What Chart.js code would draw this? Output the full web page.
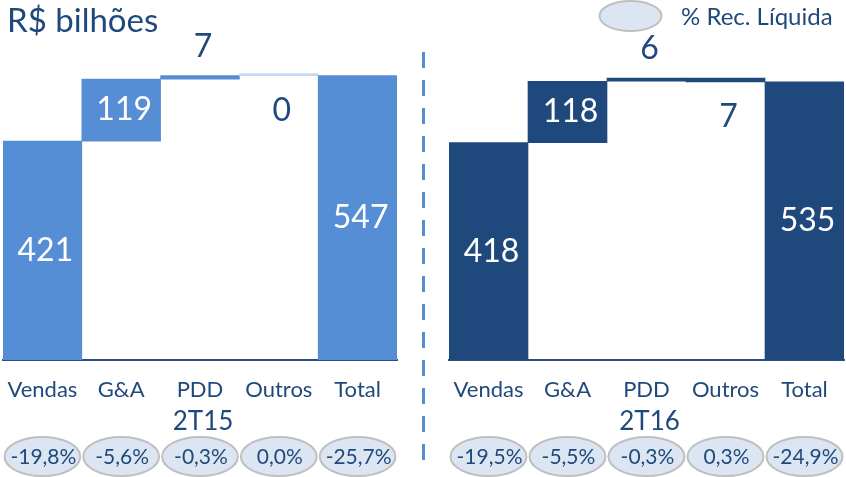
<!DOCTYPE html>
<html><head><meta charset="utf-8">
<script src="https://cdn.jsdelivr.net/npm/chart.js@4.4.1/dist/chart.umd.min.js"></script>
<style>
html,body{margin:0;padding:0;background:#fff;width:846px;height:477px;overflow:hidden}
.wrap{position:absolute;left:0;top:0;width:846px;height:477px}
</style></head><body>
<div class="wrap"><canvas id="c1"></canvas></div>
<div class="wrap"><canvas id="c2"></canvas></div>
<script>
// ---- data ----
const categories = ['Vendas', 'G&A', 'PDD', 'Outros', 'Total'];
const values2T15 = [421, 119, 7, 0, 547];
const values2T16 = [418, 118, 6, -7, 535];
const pct2T15 = ['-19,8%', '-5,6%', '-0,3%', '0,0%', '-25,7%'];
const pct2T16 = ['-19,5%', '-5,5%', '-0,3%', '0,3%', '-24,9%'];
const periods = ['2T15', '2T16'];
const unitTitle = 'R$ bilhões';
const legendLabel = '% Rec. Líquida';

// ---- style ----
const FONT = 'Lato, "Open Sans", sans-serif';
const DARK = '#1f497d';
const LIGHT_BAR = '#558ed5';
const DARK_BAR = '#1f497d';
const PILL_FILL = '#dce6f2';
const PILL_STROKE = '#bfbfbf';
const labelPlacement = ['in', 'in', 'above', 'below', 'in'];

function floating(values) {
  const out = []; let run = 0;
  values.forEach((v, i) => {
    if (i === values.length - 1) out.push([0, v]);
    else { out.push([run, run + v]); run += v; }
  });
  return out;
}

function ellipse(ctx, cx, cy, rx, ry, fill, stroke) {
  ctx.save();
  ctx.beginPath();
  ctx.ellipse(cx, cy, rx, ry, 0, 0, Math.PI * 2);
  ctx.fillStyle = fill; ctx.fill();
  ctx.lineWidth = 2; ctx.strokeStyle = stroke; ctx.stroke();
  ctx.restore();
}

function decoPlugin(values, pcts, period, isFirst) {
  return {
    id: 'deco',
    afterDatasetsDraw(chart) {
      const ctx = chart.ctx;
      const meta = chart.getDatasetMeta(0);
      const xs = chart.scales.x;
      ctx.save();
      // value labels
      ctx.font = '32px ' + FONT;
      ctx.textAlign = 'center';
      ctx.textBaseline = 'middle';
      meta.data.forEach((el, i) => {
        const top = Math.min(el.y, el.base), bottom = Math.max(el.y, el.base);
        const mode = labelPlacement[i];
        let y, col;
        if (mode === 'in') { y = (top + bottom) / 2; col = '#ffffff'; }
        else if (mode === 'above') { y = top - 29; col = DARK; }
        else { y = bottom + 35; col = DARK; }
        ctx.fillStyle = col;
        ctx.fillText(String(Math.abs(values[i])), el.x + 3, y);
      });
      // period label
      ctx.font = '26px ' + FONT;
      ctx.fillStyle = DARK;
      ctx.fillText(period, xs.getPixelForValue(2) + 3, 422);
      // pills
      const w = meta.data[0].width;
      pcts.forEach((p, i) => {
        const cx = xs.getPixelForValue(i);
        ellipse(ctx, cx, 456.5, w / 2 - 1.5, 19.5, PILL_FILL, PILL_STROKE);
        ctx.font = '21px ' + FONT;
        ctx.fillStyle = DARK;
        ctx.textAlign = 'center';
        ctx.textBaseline = 'middle';
        ctx.fillText(p, cx + 1, 457);
      });
      if (isFirst) {
        // title
        ctx.font = '33px ' + FONT;
        ctx.textAlign = 'left';
        ctx.textBaseline = 'alphabetic';
        ctx.fillStyle = DARK;
        ctx.fillText(unitTitle, 7, 32);
        // legend
        ellipse(ctx, 630.5, 16, 31, 15, PILL_FILL, PILL_STROKE);
        ctx.font = '24px ' + FONT;
        ctx.textBaseline = 'middle';
        ctx.fillStyle = DARK;
        ctx.fillText(legendLabel, 681, 17);
        // dashed separator
        ctx.beginPath();
        ctx.setLineDash([16, 12]);
        ctx.lineWidth = 3;
        ctx.strokeStyle = LIGHT_BAR;
        ctx.moveTo(423.5, 52);
        ctx.lineTo(423.5, 462);
        ctx.stroke();
      }
      ctx.restore();
    }
  };
}

function makeChart(id, values, pcts, period, color, zeroColor, padL, padR, isFirst) {
  return new Chart(document.getElementById(id), {
    type: 'bar',
    data: {
      labels: categories,
      datasets: [{
        data: floating(values),
        backgroundColor: values.map(v => v === 0 ? zeroColor : color),
        borderWidth: 0,
        minBarLength: 2,
        barPercentage: 1,
        categoryPercentage: 1
      }]
    },
    options: {
      responsive: true,
      maintainAspectRatio: false,
      animation: false,
      layout: { padding: { left: padL, right: padR, top: 48, bottom: 0 } },
      plugins: { legend: { display: false }, tooltip: { enabled: false }, title: { display: false } },
      scales: {
        x: {
          grid: { display: false, drawTicks: false },
          border: { display: true, color: '#2c4d7f', width: 2 },
          ticks: { color: DARK, font: { family: FONT, size: 22, lineHeight: '60px' }, padding: 0, maxRotation: 0, autoSkip: false },
          afterFit(s) { s.height = 117; }
        },
        y: { display: false, min: 0, max: 600 }
      }
    },
    plugins: [decoPlugin(values, pcts, period, isFirst)]
  });
}

makeChart('c1', values2T15, pct2T15, periods[0], LIGHT_BAR, '#c6d9f1', 3, 449, true);
makeChart('c2', values2T16, pct2T16, periods[1], DARK_BAR, '#c6d9f1', 449, 2, false);
</script>
</body></html>
